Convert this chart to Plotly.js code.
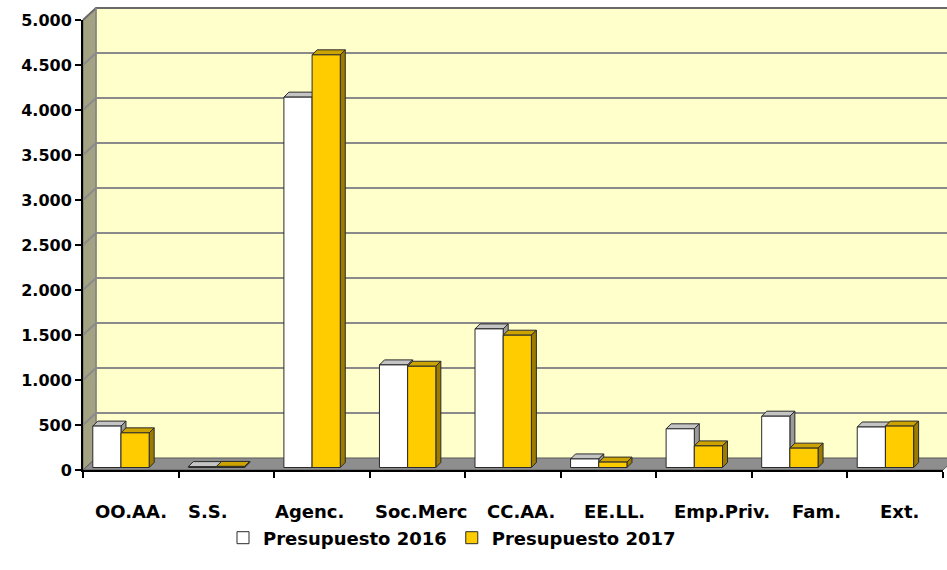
<!DOCTYPE html>
<html>
<head>
<meta charset="utf-8">
<script src="https://cdn.plot.ly/plotly-3.0.1.min.js"></script>
<style>
  html, body { margin: 0; padding: 0; background: #ffffff; }
  #chart { width: 947px; height: 570px; }
</style>
</head>
<body>
<div id="chart"></div>
<script>
// ---------------- DATA ----------------
const categories = ['OO.AA.', 'S.S.', 'Agenc.', 'Soc.Merc', 'CC.AA.', 'EE.LL.', 'Emp.Priv.', 'Fam.', 'Ext.'];
const seriesNames = ['Presupuesto 2016', 'Presupuesto 2017'];
const pres2016 = [460, 10, 4115, 1140, 1540, 95, 430, 570, 450];
const pres2017 = [385, 12, 4585, 1125, 1470, 60, 240, 215, 460];
const yTickVals = [0, 500, 1000, 1500, 2000, 2500, 3000, 3500, 4000, 4500, 5000];
const yTickFormat = ',d';     // shown as 0, 500, 1.000 … 5.000
const numberSeparators = ',.'; // decimal ',', thousands '.'

// ---------------- LAYOUT GEOMETRY (pixels) ----------------
const W = 947, H = 570;
const M = { l: 83, r: 4, t: 20, b: 100 };
const plotW = W - M.l - M.r;      // 860
const plotH = H - M.t - M.b;      // 450
const yMax = 5000;
const nCat = categories.length;
const pxPerCat = plotW / nCat;
const pxPerUnit = plotH / yMax;

// 3D wall depth (px) and bar depth (px)
const wallDx = 13, wallDy = 12;
const barD = 5;
const barBaseLift = 2.5;                 // bars stand slightly behind the front edge
const pairShift = -9.8 / pxPerCat;       // projection shift of bar pairs
const barW = 0.295;                      // bar width in category units
const labelNudge = [0, -18, -12, 4, 8, 6, 18, 17, 4]; // px, label placement tweaks
const labelY = -42;                      // px below the axis line

const colors = {
  wall: '#FFFFCC', side: '#A3A384', floor: '#8E8E8E', grid: '#8A8A8A',
  white: '#FFFFFF', whiteTop: '#C4C4C4', whiteSide: '#9A9A9A',
  gold: '#FFCC00', goldTop: '#CCA300', goldSide: '#9C7C00', edge: '#2A2A2A'
};

const fam = 'DejaVu Sans, Arial, sans-serif';
const font = { family: fam, size: 18, color: '#000000', weight: 'bold' };

// ---------------- HELPERS ----------------
const dxp = wallDx / plotW, dyp = wallDy / plotH;
const lift = barBaseLift / pxPerUnit;
const f = v => v.toFixed(5);
function pathPts(pts) {
  return 'M' + pts.map(p => f(p[0]) + ',' + f(p[1])).join('L') + 'Z';
}
function openPath(pts) {
  return 'M' + pts.map(p => f(p[0]) + ',' + f(p[1])).join('L');
}

const shapes = [];
// back wall
shapes.push({ type: 'path', xref: 'paper', yref: 'paper', layer: 'below',
  path: pathPts([[dxp, dyp], [1 + dxp, dyp], [1 + dxp, 1 + dyp], [dxp, 1 + dyp]]),
  fillcolor: colors.wall, line: { width: 0 } });
// left wall
shapes.push({ type: 'path', xref: 'paper', yref: 'paper', layer: 'below',
  path: pathPts([[0, 0], [0, 1], [dxp, 1 + dyp], [dxp, dyp]]),
  fillcolor: colors.side, line: { color: '#6E6E5A', width: 1 } });
// floor
shapes.push({ type: 'path', xref: 'paper', yref: 'paper', layer: 'below',
  path: pathPts([[0, 0], [1, 0], [1 + dxp, dyp], [dxp, dyp]]),
  fillcolor: colors.floor, line: { color: '#5A5A5A', width: 1 } });
// gridlines on left + back wall
yTickVals.forEach(v => {
  if (v === 0) return;
  const yp = v / yMax;
  shapes.push({ type: 'path', xref: 'paper', yref: 'paper', layer: 'below',
    path: openPath([[0, yp], [dxp, yp + dyp], [1 + dxp, yp + dyp]]),
    line: { color: v === yMax ? '#6A6A6A' : colors.grid, width: 2 } });
});
// back wall left edge
shapes.push({ type: 'line', xref: 'paper', yref: 'paper', layer: 'below',
  x0: dxp, x1: dxp, y0: dyp, y1: 1 + dyp, line: { color: '#8A8A8A', width: 1.5 } });

// 3D faces of bars (data coords)
const bdx = barD / pxPerCat, bdy = barD / pxPerUnit;
function barFaces(xc0, v, top, side) {
  const x0 = xc0, x1 = xc0 + barW;
  const b = lift, t = v + lift;
  shapes.push({ type: 'path', xref: 'x', yref: 'y', layer: 'below',
    path: pathPts([[x0, t], [x0 + bdx, t + bdy], [x1 + bdx, t + bdy], [x1, t]]),
    fillcolor: top, line: { color: colors.edge, width: 1 } });
  shapes.push({ type: 'path', xref: 'x', yref: 'y', layer: 'below',
    path: pathPts([[x1, b], [x1 + bdx, b + bdy], [x1 + bdx, t + bdy], [x1, t]]),
    fillcolor: side, line: { color: colors.edge, width: 1 } });
}
categories.forEach((c, i) => {
  const xc = i + pairShift;
  barFaces(xc - barW, pres2016[i], colors.whiteTop, colors.whiteSide);
  barFaces(xc, pres2017[i], colors.goldTop, colors.goldSide);
});

// category labels
const annotations = categories.map((c, i) => ({
  x: i, xref: 'x', y: labelY / plotH, yref: 'paper', text: c, showarrow: false,
  xanchor: 'center', yanchor: 'middle', xshift: labelNudge[i], font: font
}));

const xPos = categories.map((c, i) => i + pairShift);
const traces = [
  { type: 'bar', name: seriesNames[0], x: xPos, y: pres2016, base: lift,
    width: barW, offset: -barW,
    marker: { color: colors.white, line: { color: colors.edge, width: 1 } }, hoverinfo: 'y' },
  { type: 'bar', name: seriesNames[1], x: xPos, y: pres2017, base: lift,
    width: barW, offset: 0,
    marker: { color: colors.gold, line: { color: colors.edge, width: 1 } }, hoverinfo: 'y' }
];

const boundaries = Array.from({ length: nCat + 1 }, (_, i) => i - 0.5);

const layout = {
  width: W, height: H,
  margin: M,
  separators: numberSeparators,
  paper_bgcolor: '#FFFFFF', plot_bgcolor: 'rgba(0,0,0,0)',
  barmode: 'overlay',
  showlegend: true,
  font: font,
  xaxis: {
    range: [-0.5, nCat - 0.5], tickmode: 'array', tickvals: boundaries,
    ticktext: boundaries.map(() => ''), ticks: 'outside', ticklen: 6, tickwidth: 2,
    tickcolor: '#000', showline: true, linecolor: '#000', linewidth: 2,
    showgrid: false, zeroline: false
  },
  yaxis: {
    range: [0, yMax], autorange: false, tickmode: 'array', tickvals: yTickVals,
    tickformat: yTickFormat, ticksuffix: '\u00a0\u2009',
    ticks: 'outside', ticklen: 6, tickwidth: 2, tickcolor: '#000',
    showline: true, linecolor: '#000', linewidth: 2, showgrid: false, zeroline: false,
    showticklabels: true,
    tickfont: { family: fam, size: 16, color: '#000000' }
  },
  legend: {
    orientation: 'h', x: (452 - M.l) / plotW, xanchor: 'center',
    y: (M.t + plotH - 538) / plotH, yanchor: 'middle',
    font: font, bgcolor: 'rgba(0,0,0,0)', itemwidth: 30, traceorder: 'normal'
  },
  shapes: shapes,
  annotations: annotations
};

Plotly.newPlot('chart', traces, layout, { displayModeBar: false, staticPlot: true });
</script>
</body>
</html>
